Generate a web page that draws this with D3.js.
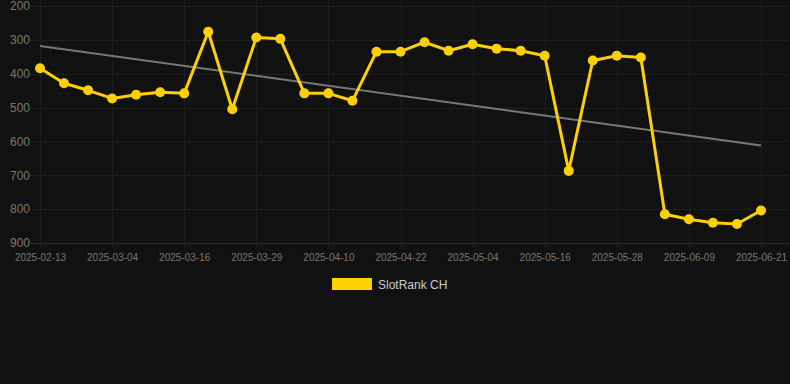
<!DOCTYPE html>
<html>
<head>
<meta charset="utf-8">
<script src="https://cdn.jsdelivr.net/npm/d3@7"></script>
<style>
	html, body { margin: 0; padding: 0; background: #111111; }
	svg { display: block; }
</style>
</head>
<body>
<div id="chart"></div>
<script>
//////////
// Data //
//////////

var dates = [
	"2025-02-13","2025-02-19","2025-02-25","2025-03-04","2025-03-08","2025-03-12",
	"2025-03-16","2025-03-20","2025-03-24","2025-03-29","2025-04-02","2025-04-06",
	"2025-04-10","2025-04-14","2025-04-18","2025-04-22","2025-04-26","2025-04-30",
	"2025-05-04","2025-05-08","2025-05-12","2025-05-16","2025-05-20","2025-05-24",
	"2025-05-28","2025-06-01","2025-06-05","2025-06-09","2025-06-13","2025-06-17",
	"2025-06-21"
];
var ranks = [
	384, 428, 449, 473, 462, 455, 458, 276, 505, 293, 297,
	458, 458, 480, 335, 335, 307, 332, 313, 326, 332, 347,
	687, 361, 347, 352, 815, 830, 840, 844, 804
];
var trend = [318, 612];
var yTicks = [200, 300, 400, 500, 600, 700, 800, 900];
var xTickLabels = dates.filter(function(d, i) { return i % 3 === 0; });
var seriesName = "SlotRank CH";

///////////////////
// Initial setup //
///////////////////

var width = 790;
var height = 384;
var plotLeft = 40, plotRight = 761, plotTop = 6, plotBottom = 243;
var gold = "#ffd000";

var svg = d3.select("#chart").append("svg")
	.attr("width", width).attr("height", height);

svg.append("rect").attr("width", width).attr("height", height).attr("fill", "#111111");

var x = d3.scalePoint().domain(dates).range([plotLeft, plotRight]);
var y = d3.scaleLinear().domain([200, 900]).range([plotTop, plotBottom]);

// Horizontal grid
svg.append("g").selectAll("line").data(yTicks).enter().append("line")
	.attr("x1", 30).attr("x2", 789)
	.attr("y1", function(d) { return Math.round(y(d)) + 0.5; })
	.attr("y2", function(d) { return Math.round(y(d)) + 0.5; })
	.attr("stroke", function(d) { return d === 900 ? "#2e2e2e" : "#1f1f1f"; })
	.attr("stroke-width", 1);

// Vertical grid
svg.append("g").selectAll("line").data(xTickLabels).enter().append("line")
	.attr("x1", function(d) { return Math.round(x(d)) + 0.5; })
	.attr("x2", function(d) { return Math.round(x(d)) + 0.5; })
	.attr("y1", 0).attr("y2", 248)
	.attr("stroke", "#1f1f1f")
	.attr("stroke-width", 1);

// Y axis
var yAxis = svg.append("g")
	.attr("transform", "translate(30,0)")
	.call(d3.axisLeft(y).tickValues(yTicks).tickSize(0).tickPadding(0));
yAxis.select(".domain").remove();
yAxis.selectAll("text")
	.attr("fill", "#777")
	.attr("font-family", "Liberation Sans, Arial, sans-serif")
	.attr("font-size", "12px");

// X axis
var xAxis = svg.append("g")
	.attr("transform", "translate(0," + plotBottom + ")")
	.call(d3.axisBottom(x).tickValues(xTickLabels).tickSize(0).tickPadding(11));
xAxis.select(".domain").remove();
xAxis.selectAll("text")
	.attr("fill", "#777")
	.attr("font-family", "Liberation Sans, Arial, sans-serif")
	.attr("font-size", "10px");

// Trend line
svg.append("line")
	.attr("x1", x(dates[0])).attr("y1", y(trend[0]))
	.attr("x2", x(dates[dates.length - 1])).attr("y2", y(trend[1]))
	.attr("stroke", "#777")
	.attr("stroke-width", 2);

// Series line
var line = d3.line()
	.x(function(d, i) { return x(dates[i]); })
	.y(function(d) { return y(d); });

svg.append("path").datum(ranks)
	.attr("d", line)
	.attr("fill", "none")
	.attr("stroke", gold)
	.attr("stroke-width", 3)
	.attr("stroke-linejoin", "round");

// Points
svg.append("g").selectAll("circle").data(ranks).enter().append("circle")
	.attr("cx", function(d, i) { return x(dates[i]); })
	.attr("cy", function(d) { return y(d); })
	.attr("r", 5)
	.attr("fill", gold);

// Legend
svg.append("rect")
	.attr("x", 332).attr("y", 278)
	.attr("width", 40).attr("height", 12)
	.attr("fill", gold);
svg.append("text")
	.text(seriesName)
	.attr("x", 378).attr("y", 288.5)
	.attr("fill", "#cccccc")
	.attr("font-family", "Liberation Sans, Arial, sans-serif")
	.attr("font-size", "12px");
</script>
</body>
</html>
